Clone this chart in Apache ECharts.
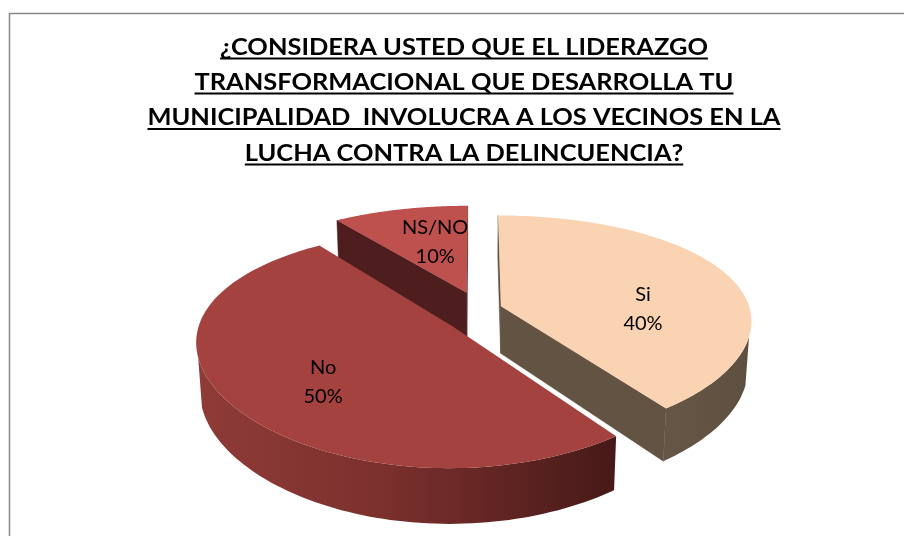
<!DOCTYPE html>
<html><head><meta charset="utf-8">
<script src="https://cdn.jsdelivr.net/npm/echarts@6/dist/echarts.min.js"></script>
<style>html,body{margin:0;padding:0;background:#fff}#c{width:904px;height:536px}</style>
</head><body><div id="c"></div>
<script>
// ---- data ----
const categories = ['Si', 'No', 'NS/NO'];
const values = [40, 50, 10];
const titleLines = [
  '¿CONSIDERA USTED QUE EL LIDERAZGO',
  'TRANSFORMACIONAL QUE DESARROLLA TU',
  'MUNICIPALIDAD  INVOLUCRA A LOS VECINOS EN LA',
  'LUCHA CONTRA LA DELINCUENCIA?'
];

// ---- styles / layout ----
const topColors = ['#FAD3B3', '#A4423F', '#BE504D'];
const cutColors = ['#625343', '#4F1F1E', '#4E1E1E'];
const wallStops = [
  [[0, '#665646'], [1, '#5E5040']],
  [[0, '#8F3B38'], [0.45, '#7B302D'], [1, '#461918']],
  [[0, '#8F3B38'], [1, '#4A1B1A']]
];
const labelNudge = [[5, 6], [0, -6], [10, -13]];
const P = {cx: 475, cy: 313, S: 250, sinF: 0.44, k: 0.207, kx: 0.14, H: 0.215, ex: 0.11, ez: 0.2};
P.cosF = Math.sqrt(1 - P.sinF * P.sinF);
const cam = [0, P.sinF / P.k, P.cosF / P.k];

function proj(X, Y, Z) {
  const q = Y * P.sinF + Z * P.cosF;
  const dn = 1 - P.k * q, dnx = 1 - P.kx * q;
  return [P.cx + P.S * X / dnx, P.cy - P.S * (Y * P.cosF - Z * P.sinF) / dn];
}
const total = values.reduce((a, b) => a + b, 0);
const starts = [];
{ let acc = 0; values.forEach(v => { starts.push(acc); acc += v; }); }
const mids = values.map((v, i) => (starts[i] + v / 2) / total * 2 * Math.PI);
const order = mids.map((m, i) => [-Math.cos(m), i]).sort((a, b) => a[0] - b[0]).map(d => d[1]);

function facing(nx, nz, px, py, pz) {
  return nx * (cam[0] - px) + nz * (cam[2] - pz) > 0;
}

function renderItem(params, api) {
  const i = params.dataIndex;
  const v = api.value(0);
  const a = starts[i] / total * 2 * Math.PI;
  const b = a + v / total * 2 * Math.PI;
  const m = (a + b) / 2;
  const ox = P.ex * Math.sin(m), oz = -P.ez * Math.cos(m);
  const H = -P.H;
  const pt = (t, r, Y) => proj(ox + r * Math.sin(t), Y, oz - r * Math.cos(t));
  const rank = order.indexOf(i);
  const base = rank * 10;
  const children = [];
  // outer wall
  const N = 120;
  const vis = [];
  for (let s = 0; s <= N; s++) {
    const t = a + (b - a) * s / N;
    if (facing(Math.sin(t), -Math.cos(t), ox + Math.sin(t), 0, oz - Math.cos(t))) vis.push(t);
  }
  if (vis.length > 1) {
    const topArc = vis.map(t => pt(t, 1, 0));
    const botArc = vis.slice().reverse().map(t => pt(t, 1, H));
    children.push({type: 'polygon', z2: base + 1, shape: {points: topArc.concat(botArc)},
      style: {fill: {type: 'linear', x: 0, y: 0, x2: 1, y2: 0,
        colorStops: wallStops[i].map(s => ({offset: s[0], color: s[1]}))}, stroke: null}});
  }
  // cut faces
  [[a, a - Math.PI / 2], [b, b + Math.PI / 2]].forEach(([t, n]) => {
    if (facing(Math.sin(n), -Math.cos(n), ox, 0, oz)) {
      children.push({type: 'polygon', z2: base + 2, shape: {points: [
        pt(t, 0, 0), pt(t, 1, 0), pt(t, 1, H), pt(t, 0, H)]},
        style: {fill: cutColors[i], stroke: cutColors[i], lineWidth: 0.5}});
    }
  });
  // top face
  const topPts = [pt(a, 0, 0)];
  for (let s = 0; s <= N; s++) topPts.push(pt(a + (b - a) * s / N, 1, 0));
  children.push({type: 'polygon', z2: base + 3, shape: {points: topPts},
    style: {fill: topColors[i], stroke: null}});
  // label
  const lp = pt(m, 0.6, H * 0.35);
  children.push({type: 'text', z2: 200, x: lp[0] + labelNudge[i][0], y: lp[1] + labelNudge[i][1],
    style: {text: categories[i] + '\n' + Math.round(v / total * 100) + '%',
      fill: '#000', font: '20px Lato', align: 'center', verticalAlign: 'middle', lineHeight: 29}});
  return {type: 'group', children};
}

// title graphics
const tFont = 'bold 23.6px Lato';
const ctx = document.createElement('canvas').getContext('2d');
ctx.font = tFont;
const widths = titleLines.map(t => ctx.measureText(t).width);
const sx = 633 / widths[2];
const titleCx = 464;
const lineYs = [47, 82, 117.5, 153];
const graphic = [{type: 'rect', shape: {x: 9.5, y: 13.5, width: 1200, height: 1200},
  style: {fill: null, stroke: '#888888', lineWidth: 1.5}, silent: true}];
titleLines.forEach((t, j) => {
  graphic.push({type: 'text', x: titleCx, y: lineYs[j], scaleX: sx,
    style: {text: t, font: tFont, fill: '#000', align: 'center', verticalAlign: 'middle'}});
  const w = widths[j] * sx;
  graphic.push({type: 'rect', shape: {x: titleCx - w / 2, y: lineYs[j] + 10.5, width: w, height: 2},
    style: {fill: '#000'}});
});

const chart = echarts.init(document.getElementById('c'), null, {renderer: 'canvas'});
chart.setOption({
  animation: false,
  backgroundColor: '#fff',
  graphic: graphic,
  series: [{type: 'custom', coordinateSystem: 'none', renderItem: renderItem, data: values}]
});
</script></body></html>
